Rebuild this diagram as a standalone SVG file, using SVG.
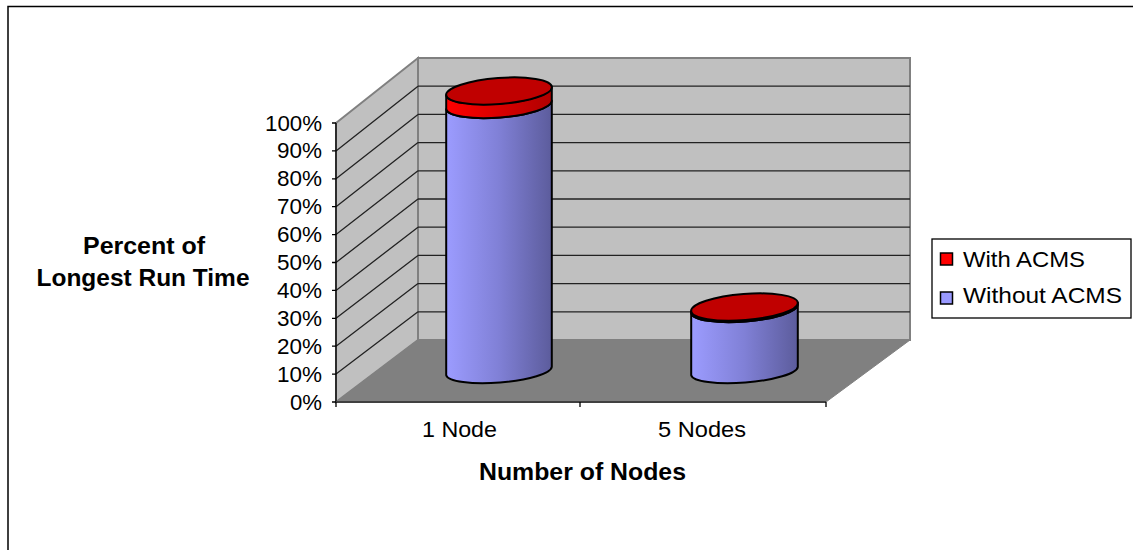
<svg xmlns="http://www.w3.org/2000/svg" width="1133" height="550" viewBox="0 0 1133 550">
<defs>
<linearGradient id="blue" x1="0" y1="0" x2="1" y2="0">
<stop offset="0" stop-color="#9C9CFF"/>
<stop offset="0.5" stop-color="#8080D6"/>
<stop offset="1" stop-color="#5C5C9C"/>
</linearGradient>
<linearGradient id="red" x1="0" y1="0" x2="1" y2="0">
<stop offset="0" stop-color="#FF0000"/>
<stop offset="1" stop-color="#B00000"/>
</linearGradient>
</defs>
<style>
.t{font-family:"Liberation Sans",Arial,sans-serif;font-size:22px;fill:#000}
.b{font-weight:bold;font-size:23px}
.wall{fill:#C0C0C0;stroke:#808080;stroke-width:2}
.floor{fill:#808080;stroke:#808080;stroke-width:1}
.grid{stroke:#222;stroke-width:1.3;fill:none}
.ax{stroke:#000;stroke-width:1.3;fill:none}
.cyl{stroke:#000;stroke-width:2;stroke-linejoin:round}
</style>
<rect x="0" y="0" width="1133" height="550" fill="#fff"/>
<rect x="8" y="6.5" width="1140" height="560" fill="#fff" stroke="#000" stroke-width="1.5"/>

<g id="walls">
<polygon class="wall" points="336,123 418,58 418,340 336,402"/>
<polygon class="wall" points="418,58 910,58 910,340 418,340"/>
<polygon class="floor" points="336,402 418,340 910,340 826,402"/>
</g>

<g id="gridlines">
<path class="grid" d="M418,311.8H910M418,283.6H910M418,255.4H910M418,227.2H910M418,199H910M418,170.8H910M418,142.6H910M418,114.4H910M418,86.2H910"/>
<path class="grid" d="M336,374.1L418,311.8M336,346.2L418,283.6M336,318.3L418,255.4M336,290.4L418,227.2M336,262.5L418,199M336,234.6L418,170.8M336,206.7L418,142.6M336,178.8L418,114.4M336,150.9L418,86.2"/>
</g>

<g id="axes">
<path class="ax" d="M336,123V402M332,123H336M332,150.9H336M332,178.8H336M332,206.7H336M332,234.6H336M332,262.5H336M332,290.4H336M332,318.3H336M332,346.2H336M332,374.1H336M332,402H336"/>
<path d="M336,402H826" stroke="#404040" stroke-width="2"/>
<path class="ax" d="M336,402V407M580,402V407M826,402V407"/>
</g>

<g id="ticklabels" class="t" text-anchor="end">
<text x="322" y="130.5" textLength="57" lengthAdjust="spacingAndGlyphs">100%</text>
<text x="322" y="158.4" textLength="45" lengthAdjust="spacingAndGlyphs">90%</text>
<text x="322" y="186.3" textLength="45" lengthAdjust="spacingAndGlyphs">80%</text>
<text x="322" y="214.2" textLength="45" lengthAdjust="spacingAndGlyphs">70%</text>
<text x="322" y="242.1" textLength="45" lengthAdjust="spacingAndGlyphs">60%</text>
<text x="322" y="270" textLength="45" lengthAdjust="spacingAndGlyphs">50%</text>
<text x="322" y="297.9" textLength="45" lengthAdjust="spacingAndGlyphs">40%</text>
<text x="322" y="325.8" textLength="45" lengthAdjust="spacingAndGlyphs">30%</text>
<text x="322" y="353.7" textLength="45" lengthAdjust="spacingAndGlyphs">20%</text>
<text x="322" y="381.6" textLength="45" lengthAdjust="spacingAndGlyphs">10%</text>
<text x="322" y="409.5" textLength="32" lengthAdjust="spacingAndGlyphs">0%</text>
</g>

<g id="bar-1node">
<path class="cyl" fill="url(#blue)" d="M446.2,109.2 L446.2,375.2 A53 12 -4.5 0 0 551.8,366.8 L551.8,100.8 A53 13 -4.5 0 1 446.2,109.2 Z"/>
<path class="cyl" fill="url(#red)" d="M446.2,95.2 L446.2,109.2 A53 13 -4.5 0 0 551.8,100.8 L551.8,86.8 A53 13 -4.5 0 1 446.2,95.2 Z"/>
<ellipse class="cyl" fill="#C00000" cx="499" cy="91" rx="53" ry="13" transform="rotate(-4.5 499 91)"/>
</g>

<g id="bar-5nodes">
<path class="cyl" fill="url(#blue)" d="M691.2,313.2 L691.2,375.2 A53.5 12 -4.5 0 0 797.8,366.8 L797.8,304.8 A53.5 13 -4.5 0 1 691.2,313.2 Z"/>
<path class="cyl" fill="url(#red)" d="M691.2,311.2 L691.2,313.2 A53.5 13 -4.5 0 0 797.8,304.8 L797.8,302.8 A53.5 13 -4.5 0 1 691.2,311.2 Z"/>
<ellipse class="cyl" fill="#C00000" cx="744.5" cy="307" rx="53.5" ry="13" transform="rotate(-4.5 744.5 307)"/>
</g>

<g id="xlabels" class="t" text-anchor="middle">
<text x="459.5" y="437" textLength="75" lengthAdjust="spacingAndGlyphs">1 Node</text>
<text x="702" y="437" textLength="88" lengthAdjust="spacingAndGlyphs">5 Nodes</text>
</g>

<g id="axis-titles" class="t b" text-anchor="middle">
<text x="144" y="254" textLength="122" lengthAdjust="spacingAndGlyphs">Percent of</text>
<text x="143" y="286" textLength="213" lengthAdjust="spacingAndGlyphs">Longest Run Time</text>
<text x="582.5" y="480" textLength="207" lengthAdjust="spacingAndGlyphs">Number of Nodes</text>
</g>

<g id="legend">
<rect x="932" y="239" width="199" height="79" fill="#fff" stroke="#000" stroke-width="1.3"/>
<rect x="940.5" y="253" width="12" height="12" fill="#FF0000" stroke="#000" stroke-width="1.5"/>
<rect x="940.5" y="292" width="12" height="12" fill="#9999FF" stroke="#000" stroke-width="1.5"/>
<text class="t" x="963" y="267" textLength="122" lengthAdjust="spacingAndGlyphs">With ACMS</text>
<text class="t" x="963" y="303" textLength="159" lengthAdjust="spacingAndGlyphs">Without ACMS</text>
</g>
</svg>
